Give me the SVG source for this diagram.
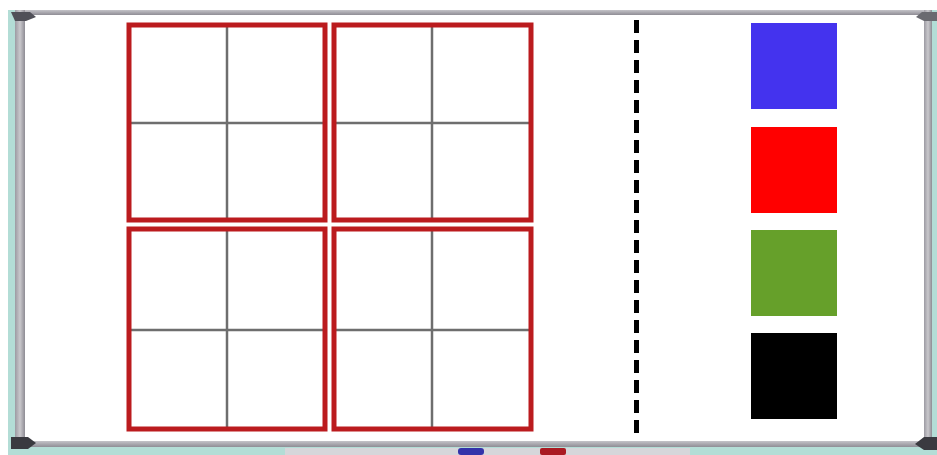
<svg xmlns="http://www.w3.org/2000/svg" width="937" height="455" viewBox="0 0 937 455">
<defs>
<linearGradient id="gv" x1="0" y1="0" x2="1" y2="0"><stop offset="0" stop-color="#9c9aa2"/><stop offset="0.5" stop-color="#c9c8cc"/><stop offset="1" stop-color="#8e8c94"/></linearGradient>
<linearGradient id="gh" x1="0" y1="0" x2="0" y2="1"><stop offset="0" stop-color="#c4c3c8"/><stop offset="1" stop-color="#8f8d95"/></linearGradient>
<style>
.q{fill:none;stroke:#bb1b1e;stroke-width:5}
.g{stroke:#6e6e6e;stroke-width:2.5}
</style>
</defs>
<rect width="937" height="455" fill="#b3ddd6"/>
<rect width="937" height="10" fill="#ffffff"/>
<rect width="8" height="455" fill="#ffffff"/>
<g id="board">
<rect x="15" y="10" width="917" height="437" fill="#ffffff"/>
<rect x="15" y="10" width="917" height="5" fill="url(#gh)"/>
<rect x="15" y="441" width="917" height="6" fill="url(#gh)"/>
<rect x="15" y="10" width="10" height="437" fill="url(#gv)"/>
<rect x="924" y="10" width="8" height="437" fill="url(#gv)"/>
<path d="M11 12 L30 12 L36 17 L26 21 L15 21 Z" fill="#505058"/>
<path d="M11 437 L28 437 L36 443 L28 449 L11 449 Z" fill="#3a3a40"/>
<path d="M937 12 L922 12 L916 17 L924 21 L937 21 Z" fill="#6a6a70"/>
<path d="M937 437 L924 437 L915 444 L924 450 L937 450 Z" fill="#3a3a40"/>
<rect x="285" y="448" width="405" height="7" fill="#d6d6da"/>
<rect x="458" y="448" width="26" height="7" rx="3" fill="#3333aa"/>
<rect x="540" y="448" width="26" height="7" rx="2" fill="#aa1a22"/>
</g>
<g id="grid">
<g id="q1">
<line class="g" x1="227" y1="25" x2="227" y2="220"/>
<line class="g" x1="129" y1="123" x2="325" y2="123"/>
<rect class="q" x="129" y="25" width="196" height="195"/>
</g>
<g id="q2">
<line class="g" x1="432" y1="25" x2="432" y2="220"/>
<line class="g" x1="334" y1="123" x2="531" y2="123"/>
<rect class="q" x="334" y="25" width="197" height="195"/>
</g>
<g id="q3">
<line class="g" x1="227" y1="229" x2="227" y2="429"/>
<line class="g" x1="129" y1="330" x2="325" y2="330"/>
<rect class="q" x="129" y="229" width="196" height="200"/>
</g>
<g id="q4">
<line class="g" x1="432" y1="229" x2="432" y2="429"/>
<line class="g" x1="334" y1="330" x2="531" y2="330"/>
<rect class="q" x="334" y="229" width="197" height="200"/>
</g>
</g>
<g id="divider">
<line x1="636.5" y1="20" x2="636.5" y2="434" stroke="#000" stroke-width="5" stroke-dasharray="13 7"/>
</g>
<g id="swatches">
<rect id="blue" x="751" y="23" width="86" height="86" fill="#4433ee"/>
<rect id="red" x="751" y="127" width="86" height="86" fill="#ff0000"/>
<rect id="green" x="751" y="230" width="86" height="86" fill="#66a02a"/>
<rect id="black" x="751" y="333" width="86" height="86" fill="#000000"/>
</g>
</svg>
